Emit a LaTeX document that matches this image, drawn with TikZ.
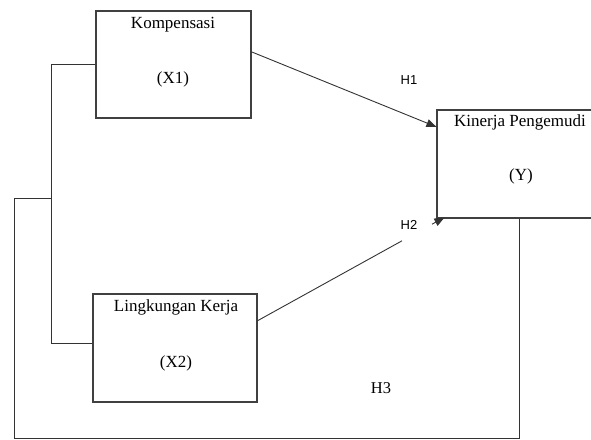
\documentclass[tikz,border=0pt]{standalone}
\usepackage{fontspec}
\setmainfont{Liberation Serif}
\newfontfamily\hfont{Liberation Sans}
\usetikzlibrary{arrows.meta,calc}
\tikzset{
  varbox/.style={draw=black!75,line width=1.1pt,rectangle,inner sep=0pt},
  conn/.style={draw=black!80,line width=0.9pt},
  boxtext/.style={font=\fontsize{17}{17}\selectfont,anchor=base,inner sep=0pt},
  hlab/.style={font=\hfont\fontsize{13}{13}\selectfont,anchor=base,inner sep=0pt},
  hlabs/.style={font=\fontsize{16.5}{16.5}\selectfont,anchor=base,inner sep=0pt},
  tip/.style={-{Triangle[length=10pt,width=8pt]}}
}
\begin{document}
\begin{tikzpicture}[x=1pt,y=-1pt]
\useasboundingbox (0,0) rectangle (591,439);
\clip (0,0) rectangle (591,439);
% boxes
\node[varbox,minimum width=155pt,minimum height=107pt] (komp) at (173.5,64.5) {};
\node[varbox,minimum width=164pt,minimum height=108pt] (ling) at (175,348) {};
\node[varbox,minimum width=170pt,minimum height=108pt] (kin) at (522,164) {};
% texts
\node[boxtext] (t1) at (173,28) {Kompensasi};
\node[boxtext] (t2) at (173,83) {(X1)};
\node[boxtext] (t3) at (176,311) {Lingkungan Kerja};
\node[boxtext] (t4) at (176,367) {(X2)};
\node[boxtext] (t5) at (520,126) {Kinerja Pengemudi};
\node[boxtext] (t6) at (521,180) {(Y)};
\node[hlab] (h1) at (409,84) {H1};
\node[hlab] (h2) at (409,229) {H2};
\node[hlabs] (h3) at (381,393) {H3};
% H1
\draw[conn,tip] ($(komp.north east)!0.383!(komp.south east)$) -- ($(kin.north west)!0.16!(kin.south west)$);
% H2 (broken around label)
\coordinate (g1) at (402,240.8);
\coordinate (g2) at (432,224.2);
\draw[conn] ($(ling.north east)!0.25!(ling.south east)$) -- (g1);
\draw[conn,tip] (g2) -- ([xshift=8pt,yshift=1pt]kin.south west);
% bracket X1-X2
\coordinate (b1) at (51,64.5);
\coordinate (b2) at (51,343);
\coordinate (j) at (51,198);
\draw[conn] (komp.west) -- (b1) -- (b2) -- ([yshift=5pt]ling.west);
% outer H3 loop
\coordinate (o1) at (14,198);
\coordinate (o2) at (14,438.8);
\coordinate (o3) at (519,438.8);
\draw[conn] (j) -- (o1) -- (o2) -- (o3) -- ([xshift=-3pt]kin.south);
\end{tikzpicture}
\end{document}
